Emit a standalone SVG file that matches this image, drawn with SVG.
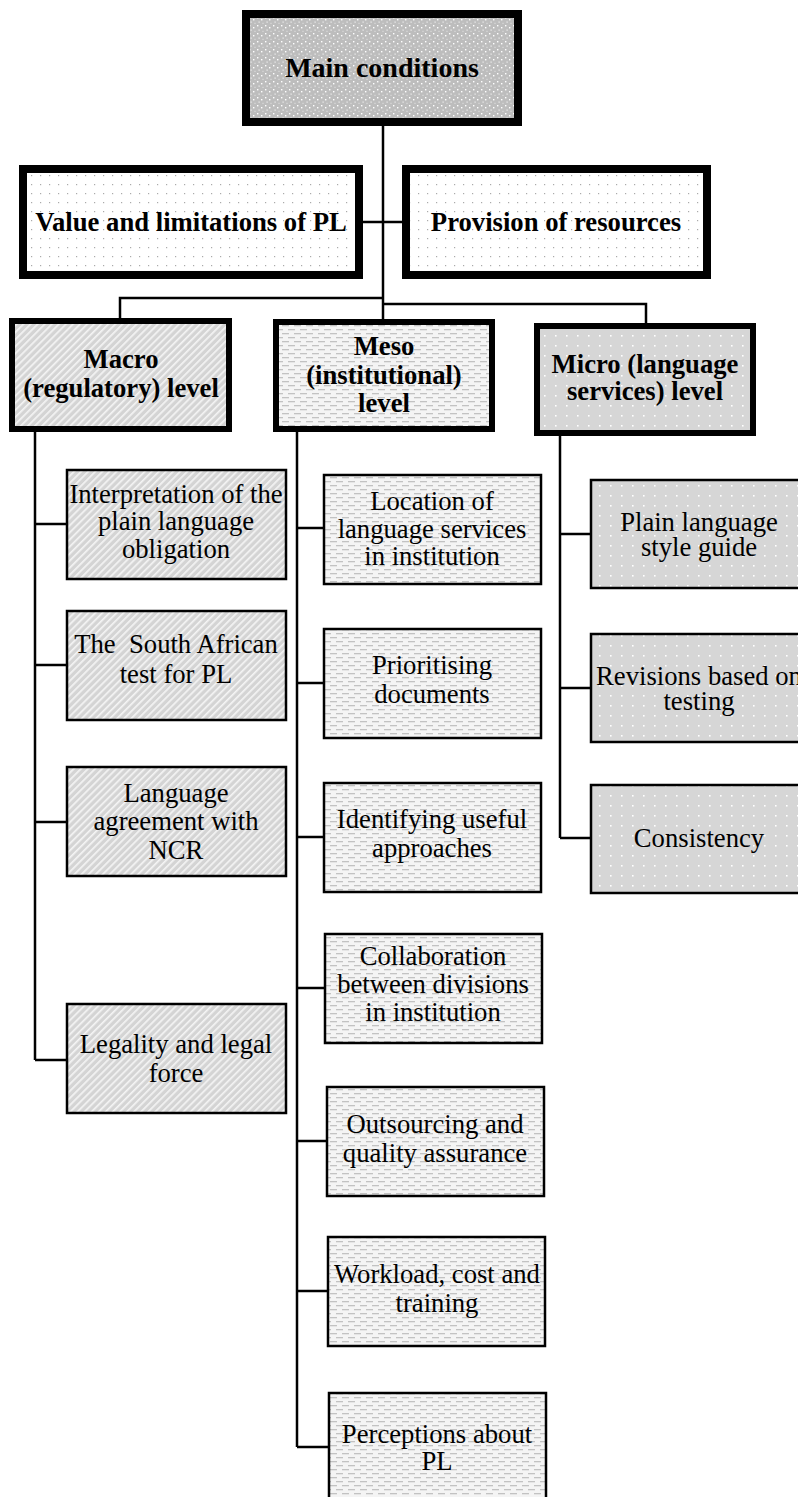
<svg xmlns="http://www.w3.org/2000/svg" width="798" height="1497" viewBox="0 0 798 1497">
<defs>
<pattern id="pMain" width="8" height="8" patternUnits="userSpaceOnUse"><rect width="8" height="8" fill="#bdbdbd"/><rect x="1" y="1" width="1.4" height="1.4" fill="#fff"/><rect x="5" y="3" width="1.4" height="1.4" fill="#fff"/><rect x="2.5" y="5.5" width="1.2" height="1.2" fill="#f0f0f0"/><rect x="6.5" y="6.8" width="1" height="1" fill="#e8e8e8"/></pattern>
<pattern id="pDots" width="9" height="9" patternUnits="userSpaceOnUse"><rect width="9" height="9" fill="#fff"/><rect x="4" y="4" width="1.2" height="1.2" fill="#aaa"/></pattern>
<pattern id="pDiag" width="5" height="5" patternUnits="userSpaceOnUse" patternTransform="rotate(45)"><rect width="5" height="5" fill="#d4d4d4"/><rect x="0" y="0" width="1.7" height="5" fill="#f4f4f4"/></pattern>
<pattern id="pDash" width="12" height="8" patternUnits="userSpaceOnUse"><rect width="12" height="8" fill="#f4f4f4"/><rect x="0" y="1" width="7" height="1.3" fill="#c2c2c2"/><rect x="6" y="5" width="7" height="1.3" fill="#c2c2c2"/><rect x="-6" y="5" width="7" height="1.3" fill="#c2c2c2"/></pattern>
<pattern id="pMicro" width="11" height="10" patternUnits="userSpaceOnUse"><rect width="11" height="10" fill="#d6d6d6"/><rect x="5" y="5" width="1.6" height="1.6" fill="#fff"/></pattern>
</defs>
<style>
text{font-family:"Liberation Serif","Times New Roman",serif;font-size:26.67px;fill:#000;text-anchor:middle}
.b{font-weight:bold}
.big{stroke:#000;stroke-width:8}
.mid{stroke:#000;stroke-width:6}
.sm{stroke:#000;stroke-width:2.5}
.con{fill:none;stroke:#000;stroke-width:2.5}
</style>
<g id="connectors" class="con">
<path d="M383,126 V319"/>
<path d="M363,222 H402"/>
<path d="M383,298 H120 V318"/>
<path d="M383,304 H646 V323"/>
<path d="M35,432 V1060 M35,524 H67 M35,665 H67 M35,822 H67 M35,1060 H67"/>
<path d="M297,432 V1447 M297,528 H324 M297,683 H324 M297,837 H324 M297,988 H325 M297,1141 H327 M297,1291 H328 M297,1447 H329"/>
<path d="M560,436 V838 M560,534 H591 M560,688 H591 M560,838 H591"/>
</g>
<g id="main">
<rect class="big" x="246" y="14" width="272" height="108" fill="url(#pMain)"/>
<text class="b" x="382" y="77" style="font-size:28px">Main conditions</text>
</g>
<g id="value">
<rect class="big" x="23" y="169" width="336" height="106" fill="url(#pDots)"/>
<text class="b" x="191" y="231">Value and limitations of PL</text>
</g>
<g id="provision">
<rect class="big" x="406" y="169" width="301" height="106" fill="url(#pDots)"/>
<text class="b" x="556" y="231">Provision of resources</text>
</g>
<g id="macro">
<rect class="mid" x="12" y="321" width="217" height="108" fill="url(#pDiag)"/>
<text class="b" x="121" y="368">Macro</text>
<text class="b" x="121" y="397">(regulatory) level</text>
</g>
<g id="meso">
<rect class="mid" x="276" y="322" width="216" height="107" fill="url(#pDash)"/>
<text class="b" x="384" y="355">Meso</text>
<text class="b" x="384" y="384">(institutional)</text>
<text class="b" x="384" y="412">level</text>
</g>
<g id="micro">
<rect class="mid" x="537" y="326" width="216" height="107" fill="url(#pMicro)"/>
<text class="b" x="645" y="373">Micro (language</text>
<text class="b" x="645" y="400">services) level</text>
</g>
<g id="macro1">
<rect class="sm" x="67" y="470" width="219" height="109" fill="url(#pDiag)"/>
<text x="176" y="503">Interpretation of the</text>
<text x="176" y="530">plain language</text>
<text x="176" y="558">obligation</text>
</g>
<g id="macro2">
<rect class="sm" x="67" y="611" width="219" height="109" fill="url(#pDiag)"/>
<text x="176" y="653" xml:space="preserve">The  South African</text>
<text x="176" y="683">test for PL</text>
</g>
<g id="macro3">
<rect class="sm" x="67" y="767" width="219" height="109" fill="url(#pDiag)"/>
<text x="176" y="802">Language</text>
<text x="176" y="830">agreement with</text>
<text x="176" y="859">NCR</text>
</g>
<g id="macro4">
<rect class="sm" x="67" y="1004" width="219" height="109" fill="url(#pDiag)"/>
<text x="176" y="1053">Legality and legal</text>
<text x="176" y="1082">force</text>
</g>
<g id="meso1">
<rect class="sm" x="324" y="475" width="217" height="109" fill="url(#pDash)"/>
<text x="432" y="510">Location of</text>
<text x="432" y="538">language services</text>
<text x="432" y="565">in institution</text>
</g>
<g id="meso2">
<rect class="sm" x="324" y="629" width="217" height="109" fill="url(#pDash)"/>
<text x="432" y="674">Prioritising</text>
<text x="432" y="703">documents</text>
</g>
<g id="meso3">
<rect class="sm" x="324" y="783" width="217" height="109" fill="url(#pDash)"/>
<text x="432" y="828">Identifying useful</text>
<text x="432" y="857">approaches</text>
</g>
<g id="meso4">
<rect class="sm" x="325" y="934" width="217" height="109" fill="url(#pDash)"/>
<text x="433" y="965">Collaboration</text>
<text x="433" y="993">between divisions</text>
<text x="433" y="1021">in institution</text>
</g>
<g id="meso5">
<rect class="sm" x="327" y="1087" width="217" height="109" fill="url(#pDash)"/>
<text x="435" y="1133">Outsourcing and</text>
<text x="435" y="1162">quality assurance</text>
</g>
<g id="meso6">
<rect class="sm" x="328" y="1237" width="217" height="109" fill="url(#pDash)"/>
<text x="437" y="1283">Workload, cost and</text>
<text x="437" y="1312">training</text>
</g>
<g id="meso7">
<rect class="sm" x="329" y="1393" width="217" height="109" fill="url(#pDash)"/>
<text x="437" y="1443">Perceptions about</text>
<text x="437" y="1470">PL</text>
</g>
<g id="micro1">
<rect class="sm" x="591" y="480" width="216" height="108" fill="url(#pMicro)"/>
<text x="699" y="531">Plain language</text>
<text x="699" y="556">style guide</text>
</g>
<g id="micro2">
<rect class="sm" x="591" y="634" width="216" height="108" fill="url(#pMicro)"/>
<text x="699" y="685">Revisions based on</text>
<text x="699" y="710">testing</text>
</g>
<g id="micro3">
<rect class="sm" x="591" y="785" width="216" height="108" fill="url(#pMicro)"/>
<text x="699" y="847">Consistency</text>
</g>
</svg>
